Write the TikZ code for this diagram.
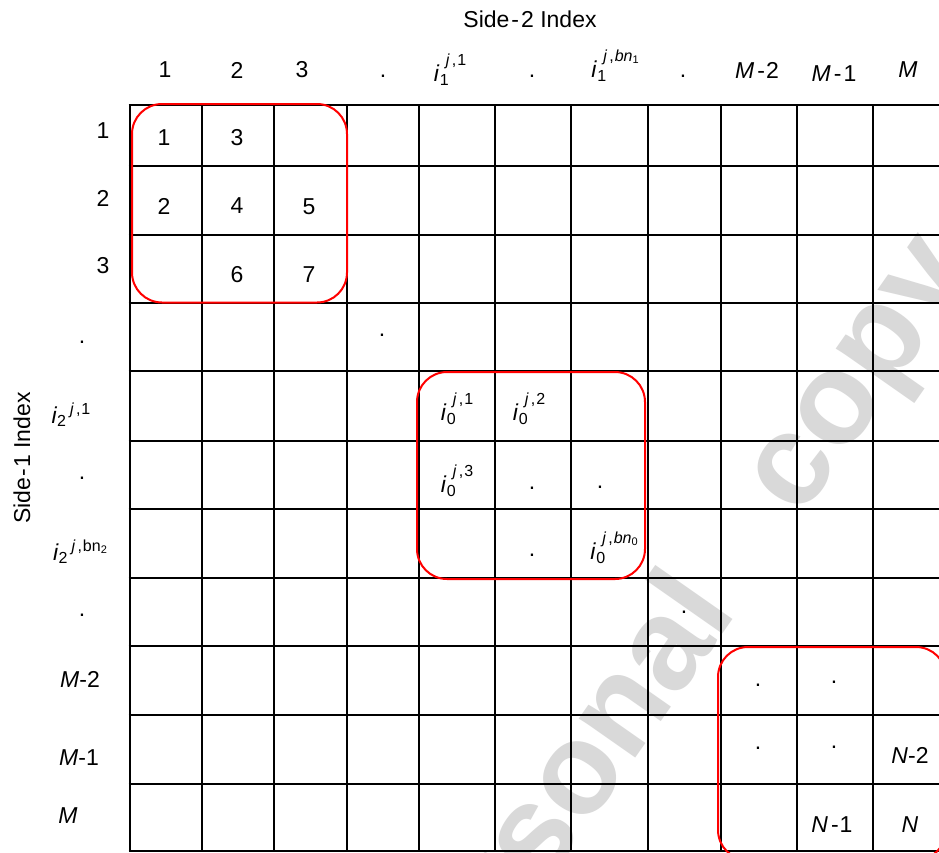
\documentclass[tikz,border=0pt]{standalone}
\usepackage{fontspec}
\setmainfont{Liberation Sans}
\newcommand\scrsz{\fontsize{16}{18}\selectfont}
\newcommand\sscrsz{\fontsize{11}{13}\selectfont}
% stacked i with sub and sup
\newcommand\istk[2]{\textit{i}\kern0.5pt\rlap{\raisebox{-4pt}{\scrsz #1}}\kern6pt\raisebox{16pt}{\scrsz #2}}
% sequential i with sub then sup
\newcommand\iseq[2]{\textit{i}\raisebox{-3pt}{\scrsz #1}\kern4pt\raisebox{9pt}{\scrsz #2}}
\newcommand\jc{\textit{j}\kern2pt,\kern1pt}
\begin{document}
\begin{tikzpicture}[x=1pt,y=-1pt,
  lbl/.style={inner sep=0pt,outer sep=0pt,font=\fontsize{23}{27}\selectfont},
  gridline/.style={line width=2pt,black},
  redbox/.style={line width=2pt,red,rounded corners=30pt},
  wm/.style={inner sep=0pt,text=black!15,font=\bfseries\fontsize{130}{130}\selectfont,rotate=55}]
\useasboundingbox (0,0) rectangle (939,852);
\fill[white] (0,0) rectangle (939,852);
\clip (0,0) rectangle (939,852);
% watermark
\node[wm] (wmark1) at (543,810) {Personal};
\node[wm] (wmark2) at (870,383) {copy};
% grid
\foreach \x in {129.5,202,274,346.5,419,495,571,648,721,797,873}
  \draw[gridline] (\x,105) -- (\x,851);
\foreach \y in {105,166,235,302.5,371,441,509,578,646,715,784,851}
  \draw[gridline] (128.5,\y) -- (950,\y);
% red boxes
\draw[redbox] (132,104) rectangle (347,302.5);
\draw[redbox] (417,372) rectangle (645,579);
\draw[redbox] (718,647) rectangle (946,860);
% titles
\node[lbl] (side2) at (530,19) {Side\kern2pt-\kern2pt2 Index};
\node[lbl,rotate=90] (side1) at (22,458) {Side\kern1pt-\kern1pt1 Index};
% column headers
\node[lbl] (h1) at (165,70) {1};
\node[lbl] (h2) at (237,70) {2};
\node[lbl] (h3) at (302,70) {3};
\node[lbl] (h4) at (383,76) {.};
\node[lbl] (h5) at (450,70) {\istk{1}{\jc1}};
\node[lbl] (h6) at (532,76) {.};
\node[lbl] (h7) at (615,66) {\istk{1}{\jc\textit{bn}\raisebox{-2pt}{\sscrsz 1}}};
\node[lbl] (h8) at (683,76) {.};
\node[lbl] (h9) at (757,70) {\textit{M}\kern3pt-\kern1pt2};
\node[lbl] (h10) at (834,74) {\textit{M}\kern3pt-\kern2pt1};
\node[lbl] (h11) at (908,70) {\textit{M}};
% row headers
\node[lbl] (r1) at (103,131) {1};
\node[lbl] (r2) at (103,198) {2};
\node[lbl] (r3) at (103,266) {3};
\node[lbl] (r4) at (82,342) {.};
\node[lbl] (r5) at (71,415) {\iseq{2}{\jc1}};
\node[lbl] (r6) at (82,478) {.};
\node[lbl] (r7) at (80,552) {\iseq{2}{\jc bn\raisebox{-2pt}{\sscrsz 2}}};
\node[lbl] (r8) at (82,615) {.};
\node[lbl] (r9) at (80,679) {\textit{M}-2};
\node[lbl] (r10) at (79,758) {\textit{M}-1};
\node[lbl] (r11) at (68,816) {\textit{M}};
% block 1
\node[lbl] (c11) at (164,138) {1};
\node[lbl] (c12) at (237,138) {3};
\node[lbl] (c21) at (164,206.5) {2};
\node[lbl] (c22) at (237,206) {4};
\node[lbl] (c23) at (309,207) {5};
\node[lbl] (c32) at (237,275) {6};
\node[lbl] (c33) at (309,275) {7};
\node[lbl] (c44) at (382,335) {.};
% block 2
\node[lbl] (c55) at (457,409) {\istk{0}{\jc1}};
\node[lbl] (c56) at (529,409) {\istk{0}{\jc2}};
\node[lbl] (c65) at (457,481) {\istk{0}{\jc3}};
\node[lbl] (c66) at (532,488) {.};
\node[lbl] (c67) at (600,487) {.};
\node[lbl] (c76) at (532,555) {.};
\node[lbl] (c77) at (614,548) {\istk{0}{\jc\textit{bn}\raisebox{-2pt}{\sscrsz 0}}};
\node[lbl] (c88) at (684,612) {.};
% block 3
\node[lbl] (c99) at (758,685) {.};
\node[lbl] (c910) at (834,682) {.};
\node[lbl] (c109) at (758,748) {.};
\node[lbl] (c1010) at (834,747) {.};
\node[lbl] (c1011) at (910,755) {\textit{N}-2};
\node[lbl] (c1110) at (832,825) {\textit{N}\kern3pt-\kern1pt1};
\node[lbl] (c1111) at (910,825) {\textit{N}};
\end{tikzpicture}
\end{document}
